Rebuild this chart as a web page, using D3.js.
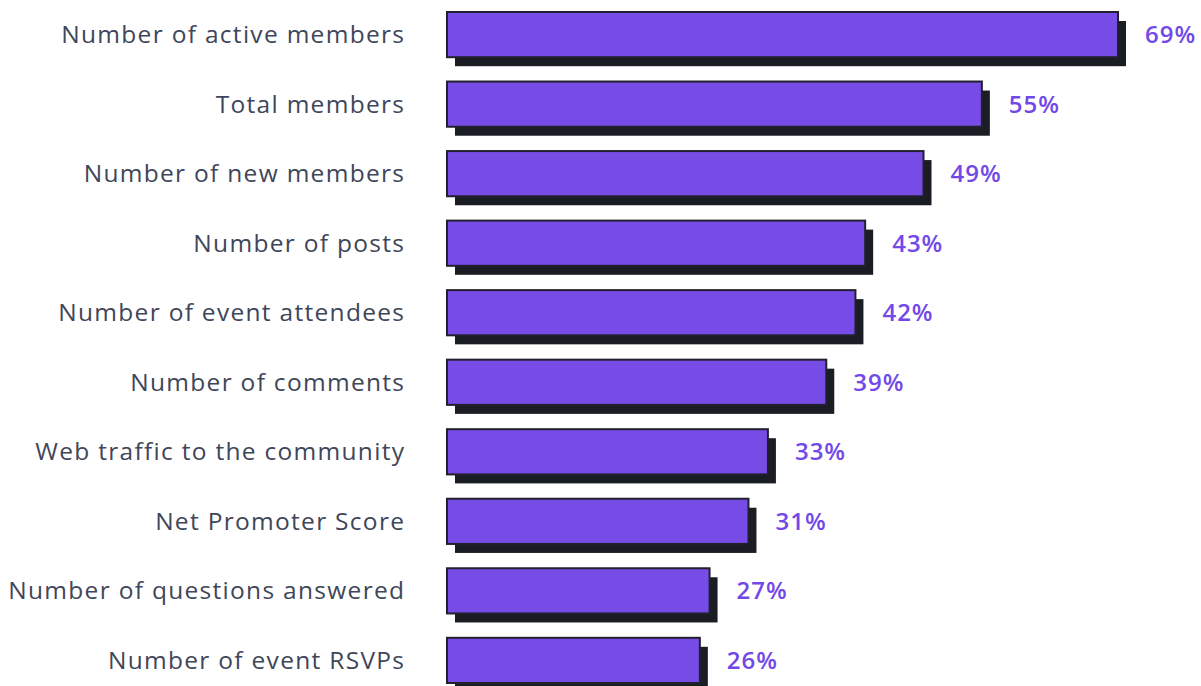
<!DOCTYPE html>
<html>
<head>
<meta charset="utf-8">
<script src="https://cdn.jsdelivr.net/npm/d3@7"></script>
<style>
  html, body { margin: 0; padding: 0; background: #ffffff; }
  svg { display: block; }
</style>
</head>
<body>
<svg id="chart" width="1201" height="686"></svg>
<script>
// Community metrics tracked, share of respondents (%)
const categories = [
  "Number of active members",
  "Total members",
  "Number of new members",
  "Number of posts",
  "Number of event attendees",
  "Number of comments",
  "Web traffic to the community",
  "Net Promoter Score",
  "Number of questions answered",
  "Number of event RSVPs"
];
const values = [69, 55, 49, 43, 42, 39, 33, 31, 27, 26];

const svg = d3.select("#chart");
const fontFamily = "'Open Sans', 'Noto Sans', sans-serif";

const x = d3.scaleLinear().domain([0, 69]).range([447, 1118]);
const y = d3.scaleBand().domain(categories).range([12, 683]).paddingInner(0.35).paddingOuter(0);

const shadowDx = 8, shadowDy = 9;

const rows = svg.selectAll("g.row")
  .data(categories.map((c, i) => ({ c, v: values[i] })))
  .join("g")
  .attr("class", "row");

// offset dark shadow block
rows.append("rect")
  .attr("x", x(0) + shadowDx)
  .attr("y", d => y(d.c) + shadowDy)
  .attr("width", d => x(d.v) - x(0))
  .attr("height", y.bandwidth())
  .attr("fill", "#1b1d24");

// main bar
rows.append("rect")
  .attr("x", x(0))
  .attr("y", d => y(d.c))
  .attr("width", d => x(d.v) - x(0))
  .attr("height", y.bandwidth())
  .attr("fill", "#774ce6")
  .attr("stroke", "#22202e")
  .attr("stroke-width", 2);

// category labels (end-anchored; trailing letter-spacing compensated)
rows.append("text")
  .attr("x", 405.3)
  .attr("y", d => y(d.c) + y.bandwidth() / 2)
  .attr("dy", "0.35em")
  .attr("text-anchor", "end")
  .attr("font-family", fontFamily)
  .attr("font-size", 24.5)
  .attr("letter-spacing", "1.3px")
  .attr("fill", "#404659")
  .text(d => d.c);

// value labels
rows.append("text")
  .attr("x", d => x(d.v) + 27)
  .attr("y", d => y(d.c) + y.bandwidth() / 2)
  .attr("dy", "0.35em")
  .attr("font-family", fontFamily)
  .attr("font-size", 24)
  .attr("font-weight", 600)
  .attr("letter-spacing", "1px")
  .attr("fill", "#7249e8")
  .text(d => d.v + "%");
</script>
</body>
</html>
